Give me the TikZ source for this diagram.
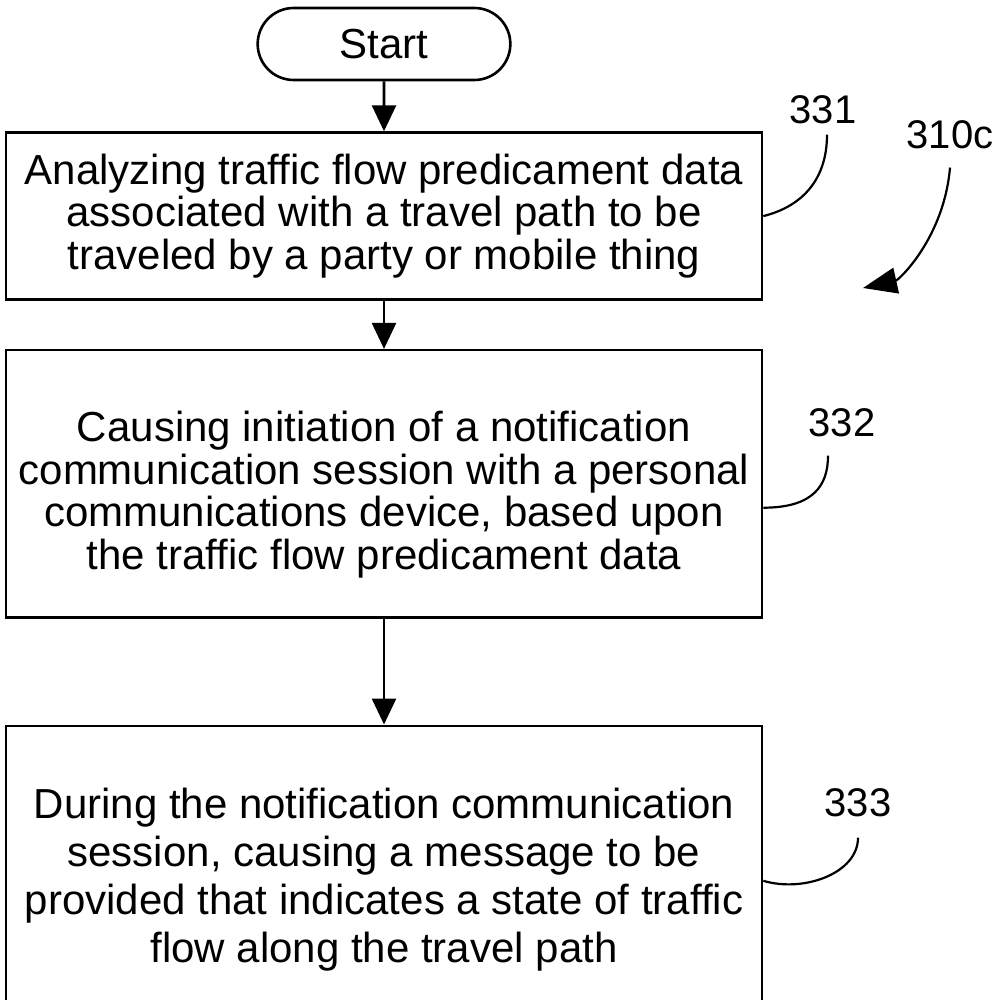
\documentclass[tikz,border=0pt]{standalone}
\usepackage{fontspec}
\setmainfont{Liberation Sans}
\usetikzlibrary{positioning,shapes.misc,arrows.meta}
\newcommand{\txtdrop}[1]{\rule{0pt}{#1}}

\begin{document}
\begin{tikzpicture}[x=1pt,y=1pt,
  node distance=24pt,
  stepbox/.style={draw,line width=1.3pt,align=center,minimum width=378pt,font=\fontsize{21}{21.3}\selectfont},
  term/.style={draw,line width=1.3pt,rounded rectangle,minimum width=133pt,minimum height=36pt,font=\fontsize{21}{21.3}\selectfont},
  ref/.style={font=\fontsize{20}{20}\selectfont,inner sep=0pt},
  lead/.style={line width=1.1pt},
  flow/.style={line width=1.3pt,-{Triangle[length=13pt,width=12pt]}}
]
\useasboundingbox (0,0) rectangle (502,-499.5);
\node[term] (start) at (192,-22) {Start};
\node[stepbox,minimum height=83.5pt,below=25pt of start] (s331)
  {Analyzing traffic flow predicament data\\associated with a travel path to be\\traveled by a party or mobile thing};
\node[stepbox,minimum height=133.5pt,below=of s331] (s332)
  {\txtdrop{26pt}Causing initiation of a notification\\communication session with a personal\\communications device, based upon\\the traffic flow predicament data};
\node[stepbox,minimum height=139pt,below=53pt of s332,font=\fontsize{21}{24}\selectfont] (s333)
  {\txtdrop{30.4pt}During the notification communication\\session, causing a message to be\\provided that indicates a state of traffic\\flow along the travel path};

% reference numerals
\node[ref] (l331) at (411.5,-55) {331};
\node[ref] (l310) at (475,-67.5) {310c};
\node[ref] (l332) at (421,-211.5) {332};
\node[ref] (l333) at (429,-401.5) {333};
\coordinate (p310) at (431.5,-144);

\draw[flow] (start) -- (s331);
\draw[flow] (s331) -- (s332);
\draw[flow] (s332) -- (s333);

\draw[lead] (s331.east) .. controls +(20,5) and +(0,-22) .. ([xshift=2pt,yshift=-5pt]l331.south);
\draw[lead] ([yshift=-12pt]s332.east) .. controls +(25,0) and +(0,-15) .. ([xshift=-7pt,yshift=-9pt]l332.south);
\draw[lead] ([yshift=-8pt]s333.east) .. controls +(20,-6) and +(0,-18) .. ([yshift=-10pt]l333.south);
\draw[lead,-{Triangle[length=17pt,width=13pt]}] ([yshift=-9pt]l310.south) .. controls +(-3,-35) and +(18,4) .. (p310);
\end{tikzpicture}
\end{document}
